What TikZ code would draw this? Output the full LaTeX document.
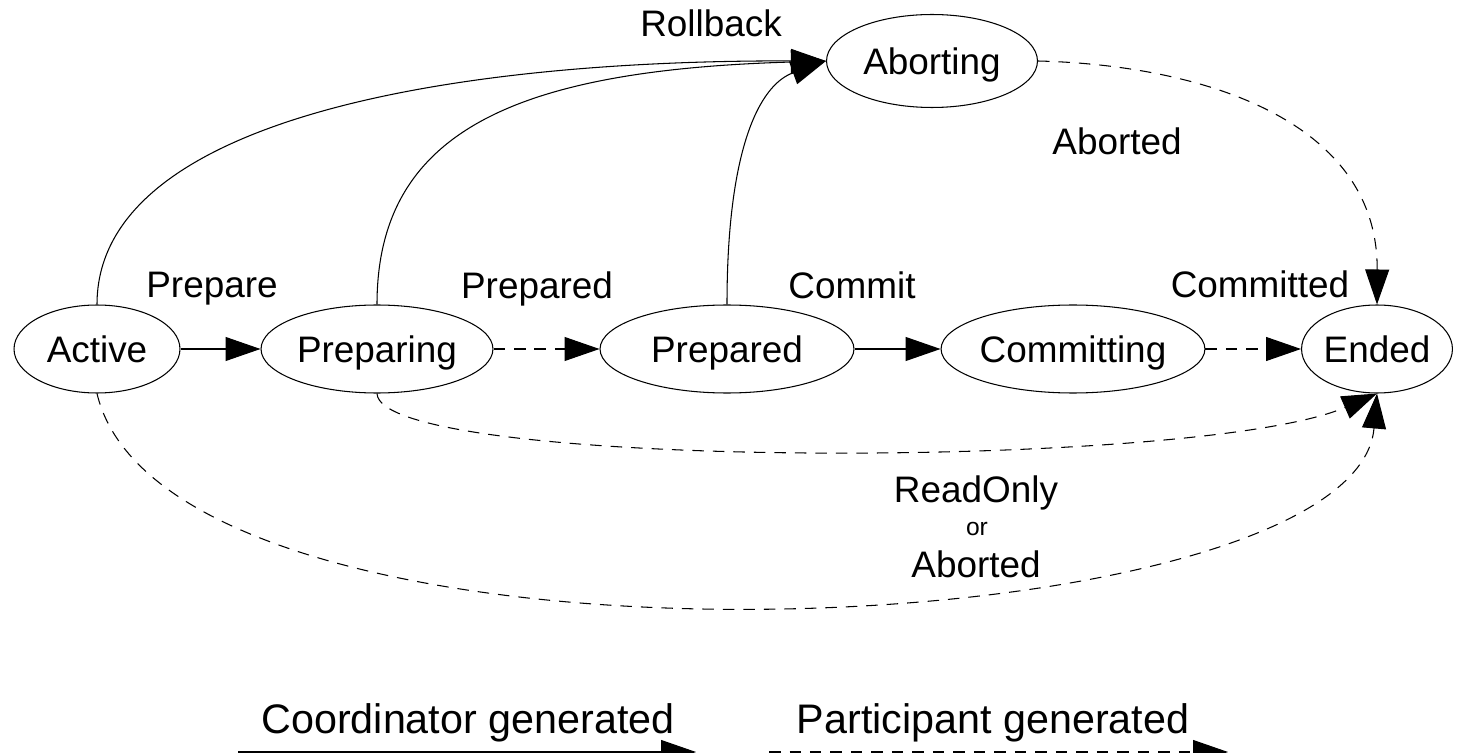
\documentclass[tikz,border=0pt]{standalone}
\usepackage{fontspec}
\setmainfont{Liberation Sans}
\usetikzlibrary{shapes.geometric, arrows.meta}

\tikzset{
  state/.style={ellipse, draw, line width=0.6pt, inner sep=0pt, minimum height=1.76cm, text height=19.4pt, text depth=4.4pt, font=\fontsize{21}{25}\selectfont},
  evt/.style={anchor=base, inner sep=0pt, font=\fontsize{21}{25}\selectfont},
  keytext/.style={anchor=base, inner sep=0pt, font=\fontsize{23.5}{28}\selectfont},
  crdarrow/.style={line width=0.6pt, -{Triangle[length=0.7cm, width=0.48cm]}},
  prtarrow/.style={crdarrow, dash pattern=on 0.23cm off 0.18cm},
}

\begin{document}
\begin{tikzpicture}[x=0.02cm, y=-0.02cm]
\useasboundingbox (0,0) rectangle (1458,753);
\node[state, minimum width=3.32cm] (active) at (97,349) {Active};
\node[state, minimum width=4.64cm] (preparing) at (377,349) {Preparing};
\node[state, minimum width=5.08cm] (prepared) at (727,349) {Prepared};
\node[state, minimum width=5.16cm] (committing) at (1073,349) {Committing};
\node[state, minimum width=2.98cm] (ended) at (1377,349) {Ended};
\node[state, minimum width=4.22cm, minimum height=1.86cm] (aborting) at (932,61) {Aborting};

\draw[crdarrow] (active) -- (preparing);
\draw[prtarrow] (preparing) -- (prepared);
\draw[crdarrow] (prepared) -- (committing);
\draw[prtarrow] (committing) -- (ended);

\draw[crdarrow] (active.north) .. controls +(0,-185) and +(-377,-1) .. (aborting.west);
\draw[crdarrow] (preparing.north) .. controls +(0,-175) and +(-307,9) .. (aborting.west);
\draw[crdarrow] (prepared.north) .. controls +(0,-155) and +(-67,24) .. (aborting.west);
\draw[prtarrow] (aborting.east) .. controls +(162,4) and +(1,-185) .. (ended.north);
\draw[prtarrow] (preparing.south) .. controls +(3,77) and +(-177,77) .. (ended.south);
\draw[prtarrow] (active.south) .. controls +(73,307) and +(-22,257) .. (ended.south);

\node[evt] (rollback) at (711,37) {Rollback};
\node[evt] (prepare) at (212,298) {Prepare};
\node[evt] (preparedlbl) at (537,299) {Prepared};
\node[evt] (commit) at (852,299) {Commit};
\node[evt] (committed) at (1260,298) {Committed};
\node[evt] (abortedtop) at (1117,155) {Aborted};
\node[evt] (readonly) at (976,502) {ReadOnly};
\node[evt, font=\fontsize{14}{16}\selectfont] (orlbl) at (977,535) {or};
\node[evt] (abortedlow) at (976,577) {Aborted};

\coordinate (c0) at (238,752);
\coordinate (c1) at (696,752);
\coordinate (p0) at (769,752);
\coordinate (p1) at (1228,752);
\draw[crdarrow] (c0) -- (c1);
\draw[prtarrow] (p0) -- (p1);
\node[keytext] (crdkey) at (468,733) {Coordinator generated};
\node[keytext] (prtkey) at (993,733) {Participant generated};
\end{tikzpicture}
\end{document}
